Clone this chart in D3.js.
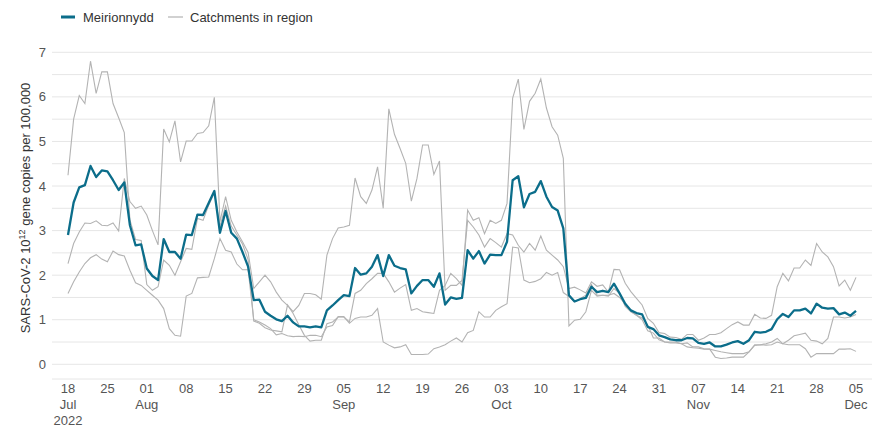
<!DOCTYPE html>
<html>
<head>
<meta charset="utf-8">
<script src="https://cdn.jsdelivr.net/npm/d3@7"></script>
<style>
  body { margin: 0; background: #fff; }
  text { font-family: "Liberation Sans", Arial, sans-serif; }
</style>
</head>
<body>
<div id="chart"></div>
<script>
// daily values from 18 Jul 2022
var startDate = new Date(2022, 6, 18)

var meirionnydd = [
  2.90, 3.63, 3.97, 4.02, 4.45, 4.20, 4.35, 4.33, 4.13, 3.91, 4.08,
  3.12, 2.67, 2.69, 2.15, 1.98, 1.89, 2.81, 2.52, 2.52, 2.37,
  2.91, 2.90, 3.36, 3.35, 3.62, 3.89, 2.95, 3.44, 2.95, 2.82,
  2.52, 2.19, 1.44, 1.45, 1.18, 1.09, 1.01, 0.97, 1.09, 0.94,
  0.85, 0.85, 0.83, 0.85, 0.83, 1.21, 1.32, 1.44, 1.55, 1.53,
  2.16, 2.01, 2.04, 2.19, 2.45, 1.98, 2.45, 2.21, 2.16, 2.13,
  1.59, 1.76, 1.89, 1.89, 1.74, 2.04, 1.34, 1.50, 1.47, 1.49,
  2.56, 2.37, 2.54, 2.26, 2.46, 2.45, 2.45, 2.75, 4.13, 4.22,
  3.52, 3.82, 3.87, 4.11, 3.76, 3.53, 3.45, 3.05, 1.55, 1.41,
  1.46, 1.49, 1.74, 1.62, 1.65, 1.62, 1.81, 1.59, 1.36, 1.21,
  1.15, 1.12, 0.84, 0.79, 0.65, 0.61, 0.56, 0.54, 0.54, 0.59,
  0.58, 0.48, 0.46, 0.49, 0.40, 0.40, 0.44, 0.49, 0.52, 0.46,
  0.54, 0.73, 0.71, 0.73, 0.79, 1.01, 1.13, 1.06, 1.21, 1.21,
  1.25, 1.14, 1.36, 1.27, 1.25, 1.26, 1.12, 1.16, 1.09, 1.20
]

var catchment1 = [
  4.24, 5.50, 6.03, 5.85, 6.80, 6.08, 6.56, 6.56, 5.85, 5.53, 5.20,
  3.24, 2.80, 2.78, 1.79, 1.66, 1.74, 2.34, 2.22, 2.00, 2.30,
  2.60, 2.58, 3.27, 3.23, 3.57, 3.85, 3.10, 3.55, 3.10, 2.90,
  2.70, 2.35, 0.97, 0.92, 0.82, 0.77, 0.75, 0.73, 1.33, 1.14,
  0.89, 0.65, 0.52, 0.54, 0.54, 0.91, 0.95, 1.06, 1.06, 0.95,
  1.59, 1.66, 1.81, 1.92, 2.04, 2.04, 1.85, 1.62, 1.71, 1.79,
  1.21, 1.25, 1.18, 1.16, 1.14, 1.66, 1.77, 2.04, 1.92, 1.77,
  3.46, 3.23, 3.29, 2.93, 3.23, 3.16, 3.23, 3.61, 5.97, 6.40,
  5.27, 5.90, 6.08, 6.40, 5.75, 5.33, 5.14, 4.62, 0.86, 0.99,
  1.01, 1.18, 1.66, 1.53, 1.55, 1.55, 1.59, 1.50, 1.35, 1.20,
  1.10, 1.00, 0.75, 0.70, 0.55, 0.50, 0.48, 0.48, 0.46, 0.39,
  0.37, 0.36, 0.34, 0.34, 0.16, 0.13, 0.14, 0.16, 0.16, 0.16,
  0.28, 0.43, 0.44, 0.43, 0.44, 0.50, 0.46, 0.44, 0.44, 0.44,
  0.35, 0.16, 0.24, 0.24, 0.24, 0.24, 0.34, 0.34, 0.35, 0.29
]

var catchment2 = [
  2.26, 2.71, 2.97, 3.17, 3.16, 3.22, 3.12, 3.11, 3.17, 2.99, 4.17,
  3.65, 3.50, 3.55, 3.35, 3.00, 2.68, 5.28, 4.99, 5.46, 4.54,
  5.01, 5.01, 5.18, 5.20, 5.35, 5.99, 3.20, 3.76, 3.23, 2.97,
  2.75, 2.51, 1.70, 1.85, 2.00, 1.85, 1.62, 1.44, 1.32, 1.18,
  1.32, 1.59, 1.59, 1.56, 1.46, 2.45, 2.82, 3.06, 3.08, 3.12,
  4.18, 3.76, 3.61, 3.91, 4.43, 3.50, 5.73, 5.16, 4.84, 4.51,
  3.66, 4.17, 4.92, 4.92, 4.26, 4.56, 1.66, 1.77, 1.77, 1.88,
  3.23, 3.08, 2.90, 2.63, 2.82, 2.73, 2.63, 2.93, 2.90, 2.67,
  2.52, 2.71, 2.56, 2.88, 2.56, 2.45, 2.34, 2.19, 1.70, 1.73,
  1.67, 1.60, 1.85, 1.75, 1.78, 1.62, 2.13, 2.12, 1.82, 1.63,
  1.48, 1.33, 1.03, 0.92, 0.71, 0.69, 0.61, 0.60, 0.56, 0.67,
  0.67, 0.54, 0.59, 0.67, 0.67, 0.71, 0.80, 0.89, 0.95, 0.88,
  0.88, 1.12, 1.04, 1.03, 1.10, 1.74, 2.04, 1.87, 2.16, 2.16,
  2.34, 2.22, 2.71, 2.52, 2.41, 2.19, 1.76, 1.89, 1.66, 1.95
]

var catchment3 = [
  1.59, 1.85, 2.07, 2.26, 2.39, 2.46, 2.36, 2.30, 2.54, 2.46, 2.43,
  2.11, 1.83, 1.77, 1.66, 1.55, 1.44, 1.25, 0.80, 0.65, 0.63,
  1.53, 1.59, 1.94, 1.95, 1.96, 2.37, 2.82, 2.56, 2.52, 2.25,
  2.12, 2.12, 1.00, 0.95, 0.88, 0.80, 0.66, 0.69, 0.64, 0.62,
  0.63, 0.62, 0.65, 0.65, 0.62, 0.84, 0.87, 1.07, 1.07, 0.92,
  1.03, 1.06, 1.06, 1.10, 1.25, 0.50, 0.43, 0.37, 0.39, 0.44,
  0.22, 0.22, 0.22, 0.23, 0.35, 0.39, 0.44, 0.52, 0.59, 0.50,
  0.71, 0.76, 1.18, 1.06, 1.06, 1.21, 1.29, 1.36, 2.63, 2.61,
  1.89, 1.83, 1.86, 1.92, 2.06, 2.00, 2.06, 1.61, 1.52, 1.40,
  1.47, 1.55, 1.79, 1.55, 1.55, 1.53, 1.70, 1.59, 1.30, 1.18,
  1.10, 1.04, 0.88, 0.59, 0.59, 0.50, 0.50, 0.50, 0.46, 0.48,
  0.39, 0.39, 0.35, 0.34, 0.31, 0.28, 0.26, 0.24, 0.24, 0.24,
  0.28, 0.43, 0.44, 0.46, 0.50, 0.58, 0.46, 0.54, 0.64, 0.67,
  0.70, 0.54, 0.52, 0.46, 0.58, 1.06, 1.06, 1.04, 1.06, 1.12
]

var yTicks = [0, 1, 2, 3, 4, 5, 6, 7]
var legendLabels = ["Meirionnydd", "Catchments in region"]

var width = 879, height = 428
var teal = "#0b6d8a", grey = "#b3b3b3"

var svg = d3.select("#chart").append("svg")
    .attr("width", width)
    .attr("height", height)

var x = d3.scaleTime()
    .domain([startDate, d3.timeDay.offset(startDate, 140)])
    .range([68, 856])

var y = d3.scaleLinear()
    .domain([0, 7])
    .range([364.3, 52.3])

var toPoints = function(arr) {
    return arr.map(function(v, i) { return {date: d3.timeDay.offset(startDate, i), value: v} })
}

// gridlines every half unit
svg.append("g")
    .selectAll("line")
    .data(d3.range(0, 7.01, 0.5))
    .enter()
    .append("line")
    .attr("x1", 52).attr("x2", 872)
    .attr("y1", function(d) { return y(d) }).attr("y2", function(d) { return y(d) })
    .style("stroke", "#e6e6e6")
    .style("stroke-width", 1)

svg.append("line")
    .attr("x1", 52).attr("x2", 872)
    .attr("y1", 379).attr("y2", 379)
    .style("stroke", "#e6e6e6")

// y labels
svg.append("g")
    .selectAll("text")
    .data(yTicks)
    .enter()
    .append("text")
    .attr("x", 46)
    .attr("y", function(d) { return y(d) + 4.5 })
    .attr("text-anchor", "end")
    .style("font-size", "13px")
    .style("fill", "#555")
    .text(function(d) { return d })

svg.append("text")
    .attr("transform", "translate(30," + 208 + ") rotate(-90)")
    .attr("text-anchor", "middle")
    .style("font-size", "13px")
    .style("fill", "#333")
    .html('SARS-CoV-2 10<tspan dy="-5" font-size="9px">12</tspan><tspan dy="5"> gene copies per 100,000</tspan>')

// x labels
var xTicks = d3.timeDay.range(startDate, d3.timeDay.offset(startDate, 141), 7)
var fmtMonth = d3.timeFormat("%b")
var xg = svg.append("g")
xTicks.forEach(function(t, i) {
    var g = xg.append("text")
        .attr("x", x(t))
        .attr("y", 393)
        .attr("text-anchor", "middle")
        .style("font-size", "13px")
        .style("fill", "#555")
    g.append("tspan").attr("x", x(t)).text(d3.timeFormat("%d")(t))
    var prev = i > 0 ? xTicks[i - 1] : null
    if (!prev || prev.getMonth() !== t.getMonth()) {
        g.append("tspan").attr("x", x(t)).attr("dy", 16).text(fmtMonth(t))
    }
    if (i === 0) {
        g.append("tspan").attr("x", x(t)).attr("dy", 15.5).text(t.getFullYear())
    }
})

var line = d3.line()
    .x(function(d) { return x(d.date) })
    .y(function(d) { return y(d.value) })

var catchments = [catchment1, catchment2, catchment3]
svg.append("g")
    .selectAll("path")
    .data(catchments)
    .enter()
    .append("path")
    .attr("d", function(d) { return line(toPoints(d)) })
    .style("fill", "none")
    .style("stroke", grey)
    .style("stroke-width", 1.1)

svg.append("path")
    .attr("d", line(toPoints(meirionnydd)))
    .style("fill", "none")
    .style("stroke", teal)
    .style("stroke-width", 2.3)
    .style("stroke-linejoin", "round")

// legend
var legend = svg.append("g")
legend.append("line")
    .attr("x1", 61).attr("x2", 75).attr("y1", 17).attr("y2", 17)
    .style("stroke", teal).style("stroke-width", 3)
legend.append("text")
    .attr("x", 83).attr("y", 21.5)
    .style("font-size", "13px").style("fill", "#333")
    .text(legendLabels[0])
legend.append("line")
    .attr("x1", 168).attr("x2", 183).attr("y1", 17).attr("y2", 17)
    .style("stroke", grey).style("stroke-width", 1.2)
legend.append("text")
    .attr("x", 190).attr("y", 21.5)
    .style("font-size", "13px").style("fill", "#333")
    .text(legendLabels[1])
</script>
</body>
</html>
